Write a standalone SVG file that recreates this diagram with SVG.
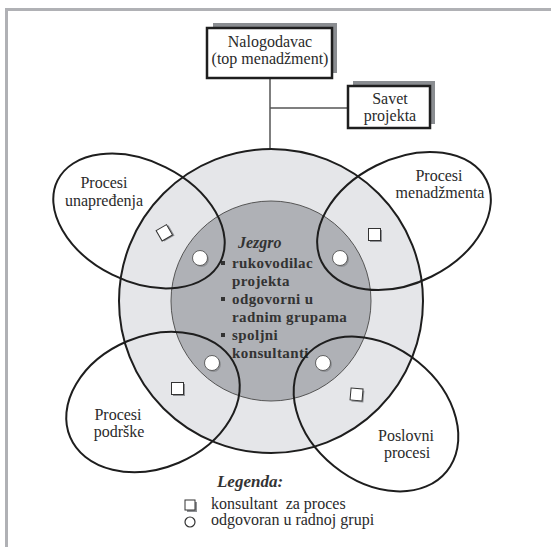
<svg xmlns="http://www.w3.org/2000/svg" width="551" height="547" viewBox="0 0 551 547">
<style>
.t{font-family:"Liberation Serif","Times New Roman",serif;font-size:16px;fill:#2a2a2a}
.c{text-anchor:middle}
.b{font-family:"Liberation Serif","Times New Roman",serif;font-size:15px;font-weight:bold;fill:#333;letter-spacing:0.4px}
.bi{font-family:"Liberation Serif","Times New Roman",serif;font-weight:bold;font-style:italic;fill:#333}
.ell{fill:none;stroke:#1e1e1e;stroke-width:2}
.box{fill:#fff;stroke:#1e1e1e;stroke-width:2.5}
.shadow{fill:#8a8d91}
.conn{stroke:#555;stroke-width:1.5;fill:none}
.sqs{fill:#8f9195}
.sq{fill:#fff;stroke:#333;stroke-width:1}
.cis{fill:#8f9195}
.ci{fill:#fff;stroke:#444;stroke-width:0.8}
</style>
<defs>
<g id="sqm"><rect class="sqs" x="-5" y="-5" width="12" height="12"/><rect class="sq" x="-6.5" y="-6.5" width="12" height="12"/></g>
<g id="cim"><circle class="cis" cx="1.5" cy="1.5" r="7.5"/><circle class="ci" cx="0" cy="0" r="7.5"/></g>
</defs>
<rect x="0" y="0" width="551" height="547" fill="#fff"/>
<rect x="5" y="8" width="546" height="3" fill="#b0b1b5"/>
<rect x="5" y="8" width="3" height="539" fill="#b0b1b5"/>

<g id="connectors">
<line class="conn" x1="270" y1="78" x2="270" y2="149"/>
<line class="conn" x1="270" y1="108" x2="348" y2="108"/>
</g>

<g id="project-circle">
<circle cx="271" cy="301" r="152" fill="#e5e6e9" stroke="#1e1e1e" stroke-width="2"/>
<circle cx="271" cy="301" r="100" fill="#afb1b6" stroke="#555" stroke-width="1"/>
</g>

<g id="jezgro">
<text class="bi" x="238" y="248" font-size="16">Jezgro</text>
<rect x="221" y="261" width="4" height="4" fill="#333"/>
<rect x="221" y="297" width="4" height="4" fill="#333"/>
<rect x="221" y="333" width="4" height="4" fill="#333"/>
<text class="b" x="232" y="268">rukovodilac</text>
<text class="b" x="232" y="286">projekta</text>
<text class="b" x="232" y="304">odgovorni u</text>
<text class="b" x="232" y="322">radnim grupama</text>
<text class="b" x="232" y="340">spoljni</text>
<text class="b" x="232" y="358">konsultanti</text>
</g>

<g id="procesi-unapredjenja">
<ellipse class="ell" cx="139" cy="221" rx="91" ry="60" transform="rotate(26.5 139 221)"/>
<text class="t c" x="104" y="188">Procesi</text>
<text class="t c" x="104" y="206">unapređenja</text>
<use href="#sqm" transform="translate(165 233) rotate(-30)"/>
<use href="#cim" x="200" y="258"/>
</g>

<g id="procesi-menadzmenta">
<ellipse class="ell" cx="404" cy="221" rx="92" ry="62" transform="rotate(-26.5 404 221)"/>
<text class="t c" x="439" y="181">Procesi</text>
<text class="t c" x="440" y="198">menadžmenta</text>
<use href="#sqm" x="375" y="235"/>
<use href="#cim" x="340" y="258"/>
</g>

<g id="procesi-podrske">
<ellipse class="ell" cx="153" cy="402" rx="90" ry="66" transform="rotate(-23 153 402)"/>
<text class="t c" x="118" y="420">Procesi</text>
<text class="t c" x="119" y="437">podrške</text>
<use href="#sqm" x="178" y="389"/>
<use href="#cim" x="212" y="363"/>
</g>

<g id="poslovni-procesi">
<ellipse class="ell" cx="376" cy="414" rx="91" ry="67" transform="rotate(39 376 414)"/>
<text class="t c" x="406" y="441">Poslovni</text>
<text class="t c" x="407" y="458">procesi</text>
<use href="#sqm" transform="translate(357 395) rotate(5)"/>
<use href="#cim" x="323" y="363"/>
</g>

<g id="nalogodavac">
<rect class="shadow" x="213" y="23" width="124" height="50"/>
<rect class="box" x="207" y="28" width="125" height="50"/>
<text class="t c" x="270" y="47">Nalogodavac</text>
<text class="t c" x="270" y="64">(top menadžment)</text>
</g>

<g id="savet-projekta">
<rect class="shadow" x="353" y="81" width="82" height="43"/>
<rect class="box" x="348" y="86" width="82" height="42"/>
<text class="t c" x="390" y="104">Savet</text>
<text class="t c" x="390" y="121">projekta</text>
</g>

<g id="legenda">
<text class="bi c" x="250" y="487" font-size="17">Legenda:</text>
<rect class="sqs" x="187" y="502" width="10" height="10"/>
<rect class="sq" x="185" y="500" width="10" height="10"/>
<circle cx="190" cy="522" r="5" fill="#fff" stroke="#333" stroke-width="1.2"/>
<text class="t" x="211" y="509" style="white-space:pre">konsultant  za proces</text>
<text class="t" x="211" y="525">odgovoran u radnoj grupi</text>
</g>
</svg>
